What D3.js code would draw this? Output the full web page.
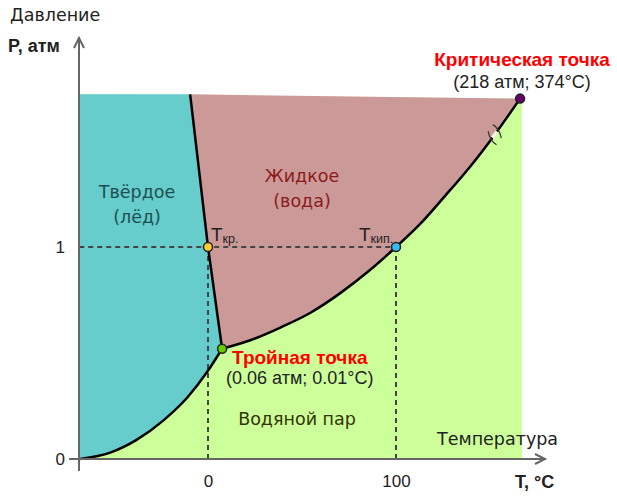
<!DOCTYPE html>
<html>
<head>
<meta charset="utf-8">
<script src="https://cdn.jsdelivr.net/npm/d3@7"></script>
<style>
  body { margin: 0; background: #fff; }
  text { font-family: "Liberation Sans", Arial, sans-serif; }
</style>
</head>
<body>
<div id="chart"></div>
<script>
// Phase boundaries (schematic, T in °C, P in atm as drawn on the chart)
const sublimationT = [-68, -52, -38, -24, -11, -0.5, 7.5];
const sublimationP = [0, 0.03, 0.09, 0.18, 0.29, 0.41, 0.52];
const meltingT = [7.5, 0, -9.5];
const meltingP = [0.52, 1, 1.72];
const vaporT = [7.5, 22.5, 38.5, 54.5, 70, 86, 100, 113, 126, 139.5, 152.5, 166];
const vaporP = [0.52, 0.56, 0.62, 0.69, 0.78, 0.89, 1, 1.11, 1.24, 1.38, 1.53, 1.70];
const fieldT = [-68.5, 167];   // left / right edge of the coloured field
const fieldTopP = [1.72, 1.70]; // top edge at left / right
const xTicks = [0, 100];
const yTicks = [0, 1];

// Marked points
const triple = { T: 7.5, P: 0.52 };
const critical = { T: 166, P: 1.70 };
const freezing = { T: 0, P: 1 };
const boiling = { T: 100, P: 1 };

const width = 617, height = 496;
const wideFont = "DejaVu Sans, Verdana, sans-serif";

const svg = d3.select("#chart")
    .append("svg")
    .attr("width", width)
    .attr("height", height);

const x = d3.scaleLinear().domain([0, 100]).range([208, 396]);
const y = d3.scaleLinear().domain([0, 1]).range([459, 247]);

const zip = (ts, ps) => ts.map((t, i) => [x(t), y(ps[i])]);
const sublim = zip(sublimationT, sublimationP);
const melt = zip(meltingT, meltingP);
const vapor = zip(vaporT, vaporP);

const curve = d3.line().curve(d3.curveMonotoneX);
const straight = d3.line();

// Vapour (green) - whole field
svg.append("path")
    .attr("d", straight([
        [x(fieldT[0]), y(0)], [x(fieldT[1]), y(0)],
        [x(fieldT[1]), y(fieldTopP[1])], [x(fieldT[0]), y(fieldTopP[0])]
    ]) + "Z")
    .attr("fill", "#ccff99");

// Solid (teal)
svg.append("path")
    .attr("d", curve(sublim) +
        melt.slice(1).map(p => "L" + p[0] + "," + p[1]).join("") +
        "L" + x(fieldT[0]) + "," + y(fieldTopP[0]) +
        "L" + x(fieldT[0]) + "," + y(0) + "Z")
    .attr("fill", "#66cccc");

// Liquid (rose)
svg.append("path")
    .attr("d", curve(vapor) +
        melt.slice().reverse().map(p => "L" + p[0] + "," + p[1]).join("") + "Z")
    .attr("fill", "#cc9999");

// Dashed guides for P = 1 atm
const guides = svg.append("g")
    .attr("stroke", "#444")
    .attr("stroke-width", 2)
    .attr("stroke-dasharray", "5,4");
guides.append("line")
    .attr("x1", x(fieldT[0])).attr("x2", x(boiling.T))
    .attr("y1", y(1)).attr("y2", y(1));
[freezing, boiling].forEach(p => {
    guides.append("line")
        .attr("x1", x(p.T)).attr("x2", x(p.T))
        .attr("y1", y(p.P)).attr("y2", y(0));
});

// Phase boundary curves
const lines = svg.append("g")
    .attr("fill", "none")
    .attr("stroke", "#000")
    .attr("stroke-width", 2.5);
lines.append("path").attr("d", curve(sublim));
lines.append("path").attr("d", straight(melt));
lines.append("path").attr("d", curve(vapor));

// Axis break mark on the vaporization curve
{
    const i = 10;
    const dx = vapor[i + 1][0] - vapor[i - 1][0];
    const dy = vapor[i + 1][1] - vapor[i - 1][1];
    const len = Math.hypot(dx, dy);
    const tx = dx / len, ty = dy / len;   // tangent
    const nx = -ty, ny = tx;             // normal
    // stroke direction: a bit steeper than the normal
    let ux = nx - 0.4 * tx, uy = ny - 0.4 * ty;
    const ul = Math.hypot(ux, uy);
    ux /= ul; uy /= ul;
    const cx0 = vapor[i][0], cy0 = vapor[i][1];
    // light gap in the curve
    svg.append("line")
        .attr("x1", cx0 - tx * 4).attr("y1", cy0 - ty * 4)
        .attr("x2", cx0 + tx * 4).attr("y2", cy0 + ty * 4)
        .attr("stroke", "#f4f4d8")
        .attr("stroke-width", 3.5);
    [-1, 1].forEach(s => {
        const cx = cx0 + tx * 4 * s, cy = cy0 + ty * 4 * s;
        const a = [cx - ux * 8, cy - uy * 8];
        const b = [cx + ux * 8, cy + uy * 8];
        const c = [cx + tx * 4 * s, cy + ty * 4 * s];
        svg.append("path")
            .attr("d", `M${a}Q${c} ${b}`)
            .attr("fill", "none")
            .attr("stroke", "#333")
            .attr("stroke-width", 1.2);
    });
}

// Axes
const axisG = svg.append("g").attr("stroke", "#666").attr("stroke-width", 2).attr("fill", "none");
axisG.append("line").attr("x1", 79).attr("x2", 79).attr("y1", 471).attr("y2", 38);
axisG.append("path").attr("d", "M74,48L79,38L84,48");
axisG.append("line").attr("x1", 69).attr("x2", 545).attr("y1", 459).attr("y2", 459);
axisG.append("path").attr("d", "M535,454L545,459L535,464");

const yAxis = svg.append("g")
    .attr("transform", "translate(79,0)")
    .call(d3.axisLeft(y).tickValues(yTicks).tickSize(0).tickPadding(14).tickFormat(d3.format("d")));
const xAxis = svg.append("g")
    .attr("transform", `translate(0,${y(0)})`)
    .call(d3.axisBottom(x).tickValues(xTicks).tickSize(0).tickPadding(16).tickFormat(d3.format("d")));
[yAxis, xAxis].forEach(g => {
    g.select(".domain").remove();
    g.selectAll("text")
        .attr("font-family", "Liberation Sans, Arial, sans-serif")
        .attr("font-size", 17)
        .attr("fill", "#222");
});

// Points
const dots = [
    { p: triple, c: "#66cc00" },
    { p: critical, c: "#660066" },
    { p: freezing, c: "#ffcc33" },
    { p: boiling, c: "#33bbee" }
];
svg.selectAll(".dot")
    .data(dots)
    .enter()
    .append("circle")
    .attr("class", "dot")
    .attr("cx", d => x(d.p.T))
    .attr("cy", d => y(d.p.P))
    .attr("r", 4.5)
    .attr("fill", d => d.c)
    .attr("stroke", "#222")
    .attr("stroke-width", 1.5);

// Labels
function label(txt, px, py, opts = {}) {
    const t = svg.append("text")
        .attr("x", px).attr("y", py)
        .attr("font-size", opts.size || 18)
        .attr("font-weight", opts.bold ? "bold" : "normal")
        .attr("fill", opts.color || "#222")
        .attr("text-anchor", opts.anchor || "start")
        .text(txt);
    if (opts.font) t.style("font-family", opts.font);
    return t;
}

label("Давление", 10, 21, { size: 17.5, font: wideFont });
label("P, атм", 8, 52, { size: 18, bold: true });
label("T, °C", 515, 488, { size: 18, bold: true });
label("Температура", 437, 445, { size: 17.5, font: wideFont });

label("Твёрдое", 137, 198, { anchor: "middle", color: "#1e4f4f", size: 17.5, font: wideFont });
label("(лёд)", 137, 223, { anchor: "middle", color: "#1e4f4f", size: 17.5, font: wideFont });
label("Жидкое", 302, 182, { anchor: "middle", color: "#8b1a1a", size: 17.5, font: wideFont });
label("(вода)", 302, 207, { anchor: "middle", color: "#8b1a1a", size: 17.5, font: wideFont });
label("Водяной пар", 297, 425, { anchor: "middle", color: "#333300", size: 17.5, font: wideFont });

label("Критическая точка", 522, 66, { anchor: "middle", bold: true, size: 19, color: "#ff0000" });
label("(218 атм; 374°C)", 522, 88, { anchor: "middle" });
label("Тройная точка", 232, 364, { bold: true, size: 19, color: "#ff0000" });
label("(0.06 атм; 0.01°C)", 226, 384);

const tkr = label("Т", 211, 241, { size: 19 });
tkr.append("tspan").attr("font-size", 12.5).attr("dy", 2).text("кр.");
const tkip = label("Т", 359, 241, { size: 19 });
tkip.append("tspan").attr("font-size", 12.5).attr("dy", 2).text("кип.");
</script>
</body>
</html>
